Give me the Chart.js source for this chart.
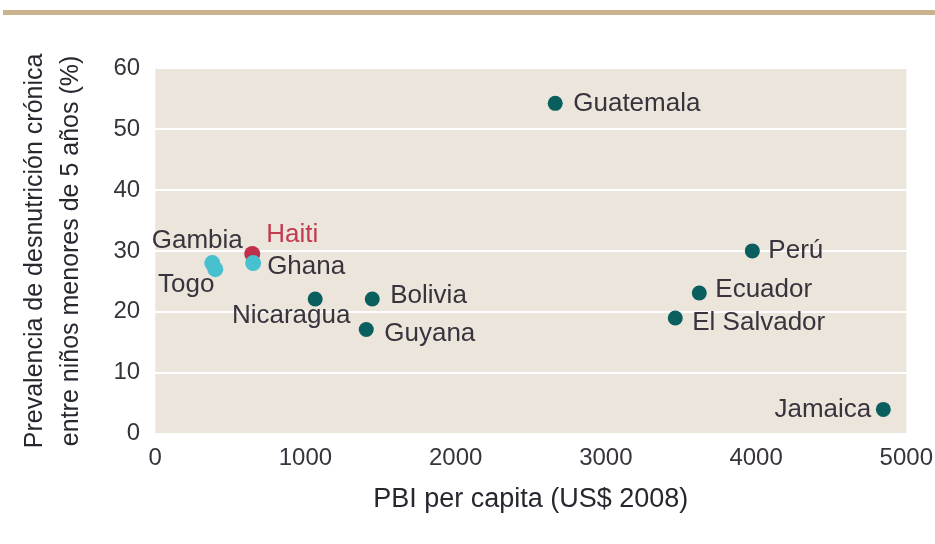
<!DOCTYPE html>
<html>
<head>
<meta charset="utf-8">
<script src="https://cdn.jsdelivr.net/npm/chart.js@4/dist/chart.umd.min.js"></script>
<style>
  html, body { margin: 0; padding: 0; background: #fff; }
  #wrap { width: 935px; height: 544px; position: relative; }
</style>
</head>
<body>
<div id="wrap"><canvas id="chart"></canvas></div>
<script>
// Data (GDP per capita US$ 2008, chronic malnutrition %)
const latamNames = ['Guatemala', 'Perú', 'Ecuador', 'El Salvador', 'Jamaica', 'Bolivia', 'Nicaragua', 'Guyana'];
const latamGdp = [2663, 3975, 3622, 3462, 4847, 1445, 1065, 1405];
const latamStunting = [54.2, 30.0, 23.1, 19.0, 4.0, 22.1, 22.1, 17.1];

const africaNames = ['Gambia', 'Togo', 'Ghana'];
const africaGdp = [380, 400, 652];
const africaStunting = [28.0, 27.0, 28.0];

const haitiNames = ['Haiti'];
const haitiGdp = [646];
const haitiStunting = [29.5];

const xTicks = [0, 1000, 2000, 3000, 4000, 5000];
const yTicks = [0, 10, 20, 30, 40, 50, 60];

// Label placement relative to each point (px)
const labelLayout = {
  'Guatemala':   { dx: 18,  dy: 0,   align: 'left' },
  'Perú':        { dx: 16,  dy: 0,   align: 'left' },
  'Ecuador':     { dx: 16,  dy: -3,  align: 'left' },
  'El Salvador': { dx: 17,  dy: 5,   align: 'left' },
  'Jamaica':     { dx: -12, dy: 0,   align: 'right' },
  'Bolivia':     { dx: 18,  dy: -3,  align: 'left' },
  'Nicaragua':   { dx: -24, dy: 17,  align: 'center' },
  'Guyana':      { dx: 18,  dy: 4,   align: 'left' },
  'Gambia':      { dx: -15, dy: -22, align: 'center' },
  'Togo':        { dx: -29, dy: 16,  align: 'center' },
  'Haiti':       { dx: 40,  dy: -19, align: 'center' },
  'Ghana':       { dx: 14,  dy: 4,   align: 'left' }
};

const FONT = "'Liberation Sans', Arial, sans-serif";
const TEXT_COLOR = '#38333d';

function toPoints(xs, ys) {
  return xs.map((x, i) => ({ x: x, y: ys[i] }));
}

// Background of plot area and the tan rule at the top
const backgroundPlugin = {
  id: 'background',
  beforeDraw(chart) {
    const { ctx, chartArea } = chart;
    ctx.save();
    ctx.fillStyle = '#c9b28d';
    ctx.fillRect(3, 10, chart.width - 3, 5);
    ctx.fillStyle = '#ebe5db';
    ctx.fillRect(chartArea.left, chartArea.top, chartArea.right - chartArea.left, chartArea.bottom - chartArea.top);
    ctx.restore();
  }
};

// Country names next to points
const labelPlugin = {
  id: 'pointLabels',
  afterDatasetsDraw(chart) {
    const ctx = chart.ctx;
    ctx.save();
    ctx.font = '26px ' + FONT;
    ctx.textBaseline = 'middle';
    chart.data.datasets.forEach((ds, di) => {
      const meta = chart.getDatasetMeta(di);
      meta.data.forEach((pt, i) => {
        const name = ds.names[i];
        const lay = labelLayout[name];
        ctx.fillStyle = ds.labelColor;
        ctx.textAlign = lay.align;
        ctx.fillText(name, pt.x + lay.dx, pt.y + lay.dy);
      });
    });
    ctx.restore();
  }
};

const ctx = document.getElementById('chart');
new Chart(ctx, {
  type: 'scatter',
  data: {
    datasets: [
      {
        label: 'África',
        names: africaNames,
        labelColor: TEXT_COLOR,
        data: toPoints(africaGdp, africaStunting),
        backgroundColor: '#47c0cf',
        borderWidth: 0,
        pointRadius: 8
      },
      {
        label: 'Haití',
        names: haitiNames,
        labelColor: '#c23a50',
        data: toPoints(haitiGdp, haitiStunting),
        backgroundColor: '#c0304a',
        borderWidth: 0,
        pointRadius: 8
      },
      {
        label: 'América Latina',
        names: latamNames,
        labelColor: TEXT_COLOR,
        data: toPoints(latamGdp, latamStunting),
        backgroundColor: '#0b5e5e',
        borderWidth: 0,
        pointRadius: 7.5
      }
    ]
  },
  options: {
    responsive: true,
    maintainAspectRatio: false,
    animation: false,
    layout: { padding: { top: 68, right: 0, bottom: 28, left: 17 } },
    plugins: {
      legend: { display: false },
      tooltip: { enabled: false }
    },
    scales: {
      x: {
        type: 'linear',
        min: 0,
        max: 5000,
        afterBuildTicks(scale) { scale.ticks = xTicks.map(v => ({ value: v })); },
        grid: { display: false },
        border: { display: false },
        ticks: {
          color: TEXT_COLOR,
          padding: 2,
          maxRotation: 0,
          callback: v => String(v),
          font: { family: FONT, size: 24 }
        },
        title: {
          display: true,
          text: 'PBI per capita (US$ 2008)',
          color: '#2a2630',
          padding: { top: 9, bottom: 0 },
          font: { family: FONT, size: 27 }
        }
      },
      y: {
        min: 0,
        max: 60,
        afterBuildTicks(scale) { scale.ticks = yTicks.map(v => ({ value: v })); },
        grid: { color: '#ffffff', lineWidth: 2, drawTicks: false },
        border: { display: false },
        ticks: {
          color: TEXT_COLOR,
          padding: 15,
          callback: v => String(v),
          font: { family: FONT, size: 24 }
        },
        title: {
          display: true,
          text: ['Prevalencia de desnutrición crónica', 'entre niños menores de 5 años (%)'],
          color: '#2a2630',
          padding: { top: 0, bottom: 9 },
          font: { family: FONT, size: 25, lineHeight: 1.45 }
        }
      }
    }
  },
  plugins: [backgroundPlugin, labelPlugin]
});
</script>
</body>
</html>
